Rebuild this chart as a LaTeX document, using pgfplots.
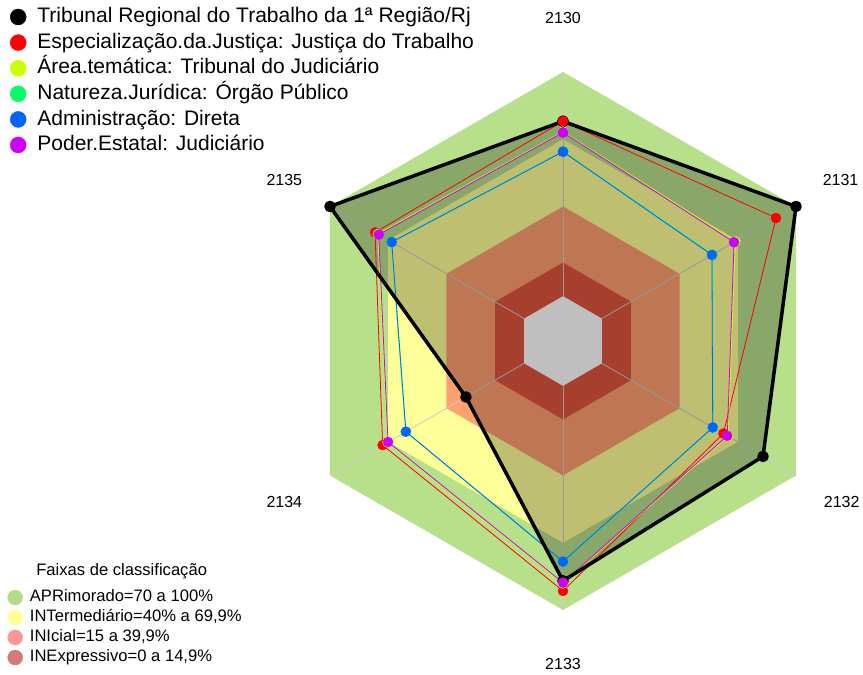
\documentclass[border=0pt]{standalone}
\usepackage{pgfplots}
\usepackage{pgfplotstable}
\pgfplotsset{compat=1.18}
\usepackage{fontspec}
\setmainfont{Liberation Sans}
\definecolor{bandG}{HTML}{B8E08B}
\definecolor{bandY}{HTML}{FFFF99}
\definecolor{bandO}{HTML}{FFA070}
\definecolor{bandR}{HTML}{E05540}
\definecolor{legG}{HTML}{B3DC88}
\definecolor{legY}{HTML}{FFFF96}
\definecolor{legP}{HTML}{FF9696}
\definecolor{legR}{HTML}{D67878}
\definecolor{sR}{HTML}{FF0000}
\definecolor{sY}{HTML}{CCFF00}
\definecolor{sG}{HTML}{00FF66}
\definecolor{sB}{HTML}{0066FF}
\definecolor{sM}{HTML}{CC00FF}
\definecolor{spoke}{HTML}{CCCCCC}
\pgfplotsset{table/radar/.style={x expr={(\thisrow{#1}+20)*cos(\thisrow{a})}, y expr={(\thisrow{#1}+20)*sin(\thisrow{a})}}}
% values per axis: 2130 (90), 2131 (30), 2132 (-30), 2133 (-90), 2134 (-150), 2135 (150)
\pgfplotstableread{
a k r y g b m
90 78 78 73.3 64.6 64.4 73
30 100 89.7 68.8 57 56.7 68.1
-30 83 62.6 65 57.3 57.1 64.6
-90 87 91.5 88.2 78.6 78.4 87.8
-150 30 72.9 70.4 61 60.9 70.1
150 100 76.8 75.4 68.4 68.2 74.9
90 78 78 73.3 64.6 64.4 73
}\data
\pgfplotstableread{
a apr int ini ine base
90 100 70 40 15 0
30 100 70 40 15 0
-30 100 70 40 15 0
-90 100 70 40 15 0
-150 100 70 40 15 0
150 100 70 40 15 0
90 100 70 40 15 0
}\bands
\begin{document}
\begin{tikzpicture}
\begin{axis}[name=ax,
  scale only axis, width=863pt, height=675pt,
  xmin=-251.1, xmax=133.8, ymin=-149.0, ymax=152.1,
  hide axis, clip=false,
  legend style={draw=none, fill=none, inner sep=0pt, outer sep=0pt,
    at={(axis description cs:0,1)}, anchor=north west, xshift=10pt, yshift=-4.2pt,
    font=\fontsize{21}{25}\selectfont, row sep=0pt, column sep=11pt,
    cells={anchor=west},
    nodes={inner xsep=0pt, inner ysep=2.55pt, text height=16pt, text depth=4.5pt}},
  legend cell align=left]
% bands
\addplot[draw=none, fill=bandG, forget plot] table[radar=apr]{\bands};
\addplot[draw=none, fill=bandY, forget plot] table[radar=int]{\bands};
\addplot[draw=none, fill=bandO, forget plot] table[radar=ini]{\bands};
\addplot[draw=none, fill=bandR, forget plot] table[radar=ine]{\bands};
\addplot[draw=none, fill=white, forget plot] table[radar=base]{\bands};
% spokes
\pgfplotsinvokeforeach{90,30,-30,-90,-150,150}{
  \draw[spoke, line width=0.8pt] (axis cs:{20*cos(#1)},{20*sin(#1)}) -- (axis cs:{120*cos(#1)},{120*sin(#1)});
}
% black polygon fill
\addplot[draw=none, fill=black, fill opacity=0.25, forget plot] table[radar=k]{\data};
% thin lines
\addplot[sR, line width=0.8pt, no marks, forget plot] table[radar=r]{\data};
\addplot[sY, line width=0.8pt, no marks, forget plot] table[radar=y]{\data};
\addplot[sG, line width=0.8pt, no marks, forget plot] table[radar=g]{\data};
\addplot[sB, line width=0.8pt, no marks, forget plot] table[radar=b]{\data};
\addplot[sM, line width=0.8pt, no marks, forget plot] table[radar=m]{\data};
% black line
\addplot[black, line width=3.5pt, line join=round, mark=*, mark size=4pt, forget plot] table[radar=k]{\data};
% markers
\addplot[sR, only marks, mark=*, mark size=5pt, forget plot] table[radar=r]{\data};
\addplot[sY, only marks, mark=*, mark size=5pt, forget plot] table[radar=y]{\data};
\addplot[sG, only marks, mark=*, mark size=5pt, forget plot] table[radar=g]{\data};
\addplot[sB, only marks, mark=*, mark size=5pt, forget plot] table[radar=b]{\data};
\addplot[sM, only marks, mark=*, mark size=5pt, forget plot] table[radar=m]{\data};
% labels
\node[font=\fontsize{16}{19}\selectfont] at (axis cs:0,144) {2130};
\node[font=\fontsize{16}{19}\selectfont] at (axis cs:123.8,71.8) {2131};
\node[font=\fontsize{16}{19}\selectfont] at (axis cs:124.3,-71.8) {2132};
\node[font=\fontsize{16}{19}\selectfont] at (axis cs:0,-144) {2133};
\node[font=\fontsize{16}{19}\selectfont] at (axis cs:-124.3,-71.8) {2134};
\node[font=\fontsize{16}{19}\selectfont] at (axis cs:-124.3,71.8) {2135};
\node[font=\fontsize{16.6}{19}\selectfont] at (axis description cs:0.141,0.154) {Faixas de classificação};
% legend
\addlegendimage{black, legend image code/.code={\fill (0pt,0pt) circle (8pt);}}
\addlegendentry{Tribunal Regional do Trabalho da 1ª Região/Rj}
\addlegendimage{sR, legend image code/.code={\fill (0pt,0pt) circle (8pt);}}
\addlegendentry{Especialização.da.Justiça: Justiça do Trabalho}
\addlegendimage{sY, legend image code/.code={\fill (0pt,0pt) circle (8pt);}}
\addlegendentry{Área.temática: Tribunal do Judiciário}
\addlegendimage{sG, legend image code/.code={\fill (0pt,0pt) circle (8pt);}}
\addlegendentry{Natureza.Jurídica: Órgão Público}
\addlegendimage{sB, legend image code/.code={\fill (0pt,0pt) circle (8pt);}}
\addlegendentry{Administração: Direta}
\addlegendimage{sM, legend image code/.code={\fill (0pt,0pt) circle (8pt);}}
\addlegendentry{Poder.Estatal: Judiciário}
\end{axis}
\begin{axis}[at={(ax.south west)}, anchor=south west,
  scale only axis, width=863pt, height=675pt,
  xmin=0, xmax=1, ymin=0, ymax=1, hide axis,
  legend style={draw=none, fill=none, inner sep=0pt, outer sep=0pt,
    at={(axis description cs:0,0)}, anchor=south west, xshift=7.5pt, yshift=7.5pt,
    font=\fontsize{16.6}{19}\selectfont, row sep=0pt, column sep=7pt,
    cells={anchor=west},
    nodes={inner xsep=0pt, inner ysep=2pt, text height=12.5pt, text depth=3.5pt}},
  legend cell align=left]
\addlegendimage{legG, legend image code/.code={\fill (0pt,0pt) circle (7.5pt);}}
\addlegendentry{APRimorado=70 a 100\%}
\addlegendimage{legY, legend image code/.code={\fill (0pt,0pt) circle (7.5pt);}}
\addlegendentry{INTermediário=40\% a 69,9\%}
\addlegendimage{legP, legend image code/.code={\fill (0pt,0pt) circle (7.5pt);}}
\addlegendentry{INIcial=15 a 39,9\%}
\addlegendimage{legR, legend image code/.code={\fill (0pt,0pt) circle (7.5pt);}}
\addlegendentry{INExpressivo=0 a 14,9\%}
\end{axis}
\pgfresetboundingbox
\path[use as bounding box] (ax.south west) rectangle (ax.north east);
\end{tikzpicture}
\end{document}
